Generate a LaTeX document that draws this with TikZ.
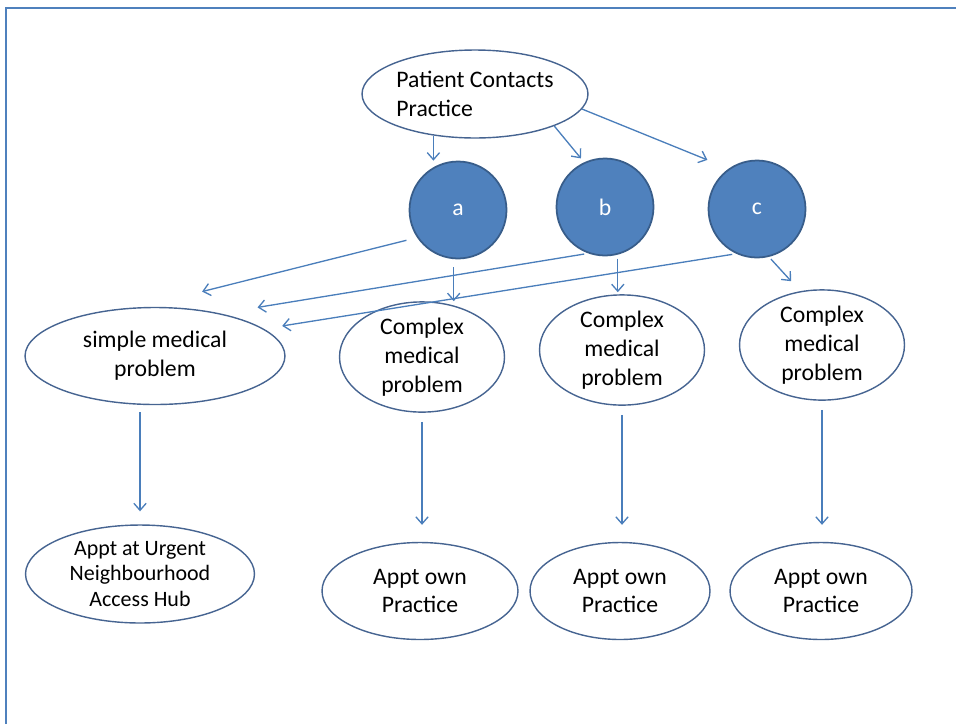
\documentclass[tikz,border=0pt]{standalone}
\usepackage{fontspec}
\setmainfont{Carlito}
\usetikzlibrary{arrows.meta,shapes.geometric}
\definecolor{lineblue}{RGB}{74,126,187}
\definecolor{fillblue}{RGB}{79,129,189}
\definecolor{edgeblue}{RGB}{56,93,138}
\definecolor{ringblue}{RGB}{70,100,145}
\tikzset{
	oval/.style={ellipse, draw=ringblue, line width=0.8pt, inner sep=0pt, align=center, font=\fontsize{13.5}{16.4}\selectfont},
	choice/.style={circle, fill=fillblue, draw=edgeblue, line width=1pt, minimum size=1.94cm, inner sep=0pt, text=white, font=\fontsize{13.5}{16}\selectfont},
	link/.style={draw=lineblue, line width=0.75pt, -{Straight Barb[length=4pt,width=7pt]}}
}
\begin{document}
\begin{tikzpicture}[x=0.02cm, y=-0.02cm]
		\useasboundingbox (0, 0) rectangle (956, 724);
		\draw [fillblue, line width=1.2pt] (6, 724) -- (6, 8) -- (956, 8);

		\node [oval, align=left, minimum width=4.52cm, minimum height=1.76cm] (pcp) at (475, 94) {Patient Contacts\\Practice};

		\node [choice] (a) at (458, 210) {a};
		\node [choice] (b) at (605, 207) {b};
		\node [choice] (c) at (757, 209) {c};

		\node [oval, minimum width=5.2cm, minimum height=1.94cm] (simple) at (155, 356) {simple medical\\problem};
		\foreach \n/\x/\y in {1/422/357, 2/622/350, 3/822/345} {
			\node [oval, minimum width=3.3cm, minimum height=2.12cm] (cx\n) at (\x, \y) {Complex\\medical\\problem};
		}

		\node [oval, minimum width=4.58cm, minimum height=1.96cm, font=\fontsize{12.5}{14.5}\selectfont] (hub) at (140, 574) {Appt at Urgent\\Neighbourhood\\Access Hub};
		\foreach \n/\x/\w in {1/420/3.92, 2/620/3.6, 3/821/3.64} {
			\node [oval, minimum width=\w cm, minimum height=1.94cm] (ap\n) at (\x, 591) {Appt own\\Practice};
		}

		\draw [link] (pcp.225) -- (pcp.225 |- a.north);
		\draw [link, shorten >=0.1cm] (pcp.-22) -- (b.115);
		\draw [link, shorten >=0.46cm] (pcp.-8) -- (c.125);

		\draw [link, shorten <=0.22cm, shorten >=1.28cm] (a.214) -- (simple.107);
		\draw [link, shorten <=0.16cm] (a.-95) -- (a.-95 |- cx1.north);
		\draw [link, shorten <=0.08cm, shorten >=0.75cm] (b.250) -- (simple.33);
		\draw [link, shorten <=0.08cm, shorten >=0.04cm] (b.-75) -- (b.-75 |- cx2.north);
		\draw [link, shorten <=0.08cm, shorten >=0.37cm] (c.245) -- (simple.14);
		\draw [link, shorten <=0.06cm, shorten >=0.27cm] (c.284) -- (cx3.112);

		\draw [link, shorten <=0.14cm, shorten >=0.26cm] (hub.north |- simple.south) -- (hub.north);
		\foreach \n in {1, 2, 3} {
			\draw [link, shorten <=0.18cm, shorten >=0.34cm] (cx\n) -- (cx\n |- ap\n.north);
		}
	\end{tikzpicture}
\end{document}
